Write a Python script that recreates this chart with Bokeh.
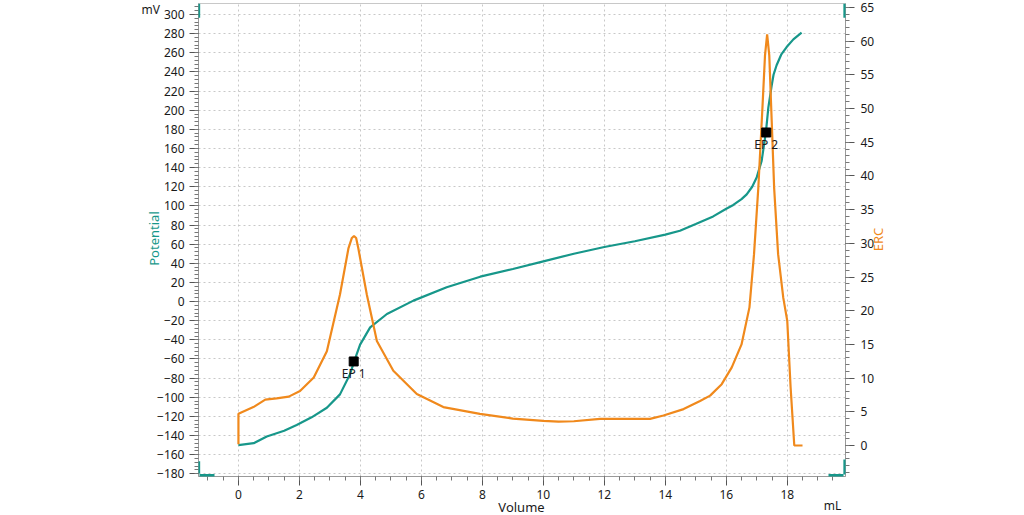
import math
from bokeh.plotting import figure
from bokeh.models import Range1d, LinearAxis, SingleIntervalTicker, Label, BoxAnnotation, ColumnDataSource
from bokeh.core.properties import value
from bokeh.embed import file_html
from bokeh.resources import INLINE

# ---- data ----
vol_pot = [0, 0.5, 0.93, 1.5, 1.91, 2.4, 2.9, 3.33, 3.66, 3.79, 3.99, 4.32, 4.87, 5.74,
           6.83, 7.93, 9.0, 10.0, 11.0, 12.0, 13.0, 14.0, 14.48, 15.0, 15.57, 16.0,
           16.23, 16.5, 16.67, 16.85, 17.0, 17.16, 17.3, 17.38, 17.49, 17.55, 17.65,
           17.8, 17.98, 18.2, 18.47]
potential = [-150, -148, -141, -135, -129, -121, -111, -97, -76, -63, -45, -27, -13, 1,
             15, 26, 34, 42, 50, 57, 63, 70, 74, 81, 89, 97,
             101, 107, 112, 120, 130, 147, 177, 203, 226, 237, 247,
             258, 266, 274, 281]

vol_erc = [0, 0, 0.49, 0.88, 1.25, 1.65, 2.02, 2.47, 2.9, 3.33, 3.61, 3.72, 3.79, 3.86,
           3.93, 4.21, 4.54, 5.08, 5.85, 6.72, 7.92, 9.0, 10.0, 10.5, 11.0, 11.86, 13.5,
           13.94, 14.6, 15.14, 15.47, 15.85, 16.18, 16.5, 16.76, 16.91, 17.05, 17.19,
           17.27, 17.34, 17.41, 17.49, 17.57, 17.7, 17.87, 18.0, 18.11, 18.23, 18.5]
erc = [0.2, 4.7, 5.7, 6.8, 7.0, 7.25, 8.1, 10.1, 14.0, 22.4, 29.3, 30.8, 31.1, 30.8,
       29.3, 22.4, 15.5, 11.1, 7.65, 5.7, 4.7, 4.0, 3.65, 3.55, 3.6, 3.95, 3.95,
       4.45, 5.4, 6.6, 7.4, 9.1, 11.6, 15.0, 20.5, 28.4, 38.2, 50.5,
       57.9, 61.0, 57.9, 48.1, 38.2, 28.4, 21.9, 18.5, 8.6, 0, 0]

ep_vol = [3.78, 17.31]
ep_pot = [-62.6, 176.7]
ep_labels = ["EP 1", "EP 2"]

X_START, X_END = -1.31, 19.91
Y_START, Y_END = -182.82, 311.5
E_START, E_END = -4.601, 65.594

W, H = 1024, 515
TEAL = "#17978a"
ORANGE = "#f0891c"
FONT = "Noto Sans"

p = figure(width=W, height=H, output_backend="svg", toolbar_location=None,
           x_range=Range1d(X_START, X_END), y_range=Range1d(Y_START, Y_END),
           min_border_left=198, min_border_right=179, min_border_top=3,
           min_border_bottom=39)
p.extra_y_ranges = {"erc": Range1d(E_START, E_END)}
p.background_fill_color = "white"
p.border_fill_color = "white"
p.outline_line_color = "#c8c8c8"

def style_axis(ax):
    ax.axis_line_color = "#9a9a9a"
    ax.major_tick_line_color = "#555555"
    ax.minor_tick_line_color = "#777777"
    ax.major_tick_in = 0
    ax.major_tick_out = 9
    ax.minor_tick_in = 0
    ax.minor_tick_out = 4
    ax.major_label_text_font = FONT
    ax.major_label_text_font_size = "12px"
    ax.major_label_text_color = "#1a1a1a"
    ax.major_label_standoff = 5

p.xaxis.ticker = SingleIntervalTicker(interval=2, num_minor_ticks=4)
p.yaxis.ticker = SingleIntervalTicker(interval=20, num_minor_ticks=5)
style_axis(p.xaxis[0])
style_axis(p.yaxis[0])
p.xaxis.major_label_standoff = 4

raxis = LinearAxis(y_range_name="erc", ticker=SingleIntervalTicker(interval=5, num_minor_ticks=5))
style_axis(raxis)
raxis.major_label_standoff = 6
p.add_layout(raxis, "right")

for g in (p.xgrid[0], p.ygrid[0]):
    g.grid_line_color = "#c8c8c8"
    g.grid_line_dash = "2 3"
    g.grid_line_width = 1

pot_src = ColumnDataSource(dict(x=vol_pot, y=potential))
erc_src = ColumnDataSource(dict(x=vol_erc, y=erc))
p.line("x", "y", source=pot_src, line_color=TEAL, line_width=2.2)
p.line("x", "y", source=erc_src, line_color=ORANGE, line_width=2.2, y_range_name="erc")

ep_src = ColumnDataSource(dict(x=ep_vol, y=ep_pot, t=ep_labels))
p.scatter("x", "y", source=ep_src, marker="square", size=9, color="black")
p.text("x", "y", text="t", source=ep_src, y_offset=12, text_align="center",
       text_baseline="middle", text_font=value(FONT), text_font_size="12px",
       text_color="#1a1a1a")

# range handles (decoration at the range ends)
for l, r, b, t in [
    (X_START - 0.055, X_START + 0.055, Y_END - 15, Y_END),
    (X_START - 0.055, X_START + 0.055, Y_START + 3.2, Y_START + 16),
    (X_END - 0.07, X_END + 0.02, Y_END - 15, Y_END),
    (X_END - 0.07, X_END + 0.02, Y_START + 2, Y_START + 17.8),
]:
    p.add_layout(BoxAnnotation(left=l, right=r, bottom=b, top=t,
                               fill_color=TEAL, fill_alpha=1, line_alpha=0))
for l, r in [(199, 214), (828, 843)]:
    p.add_layout(BoxAnnotation(left=l, right=r, top=473.5, bottom=476.5,
                               left_units="canvas", right_units="canvas",
                               bottom_units="canvas", top_units="canvas",
                               fill_color=TEAL, fill_alpha=1, line_alpha=0))

def lab(side, x, y, text, size="12px", color="#1a1a1a", **kw):
    p.add_layout(Label(x=x, y=y, x_units="canvas", y_units="canvas", text=text,
                       text_font=FONT, text_font_size=size, text_color=color, **kw), side)

lab("left", 141, 9, "mV", text_baseline="middle", text_align="left")
lab("right", 832, 505, "mL", text_baseline="middle", text_align="center")
lab("left", 521, 506, "Volume", size="13px", text_baseline="middle", text_align="center")
lab("left", 153.5, 238, "Potential", size="13px", text_baseline="middle", text_align="center",
    angle=math.pi / 2, color=TEAL)
lab("right", 877, 239, "ERC", size="13px", text_baseline="middle", text_align="center",
    angle=math.pi / 2, color=ORANGE)

open("out.html", "w").write(file_html(p, INLINE))
